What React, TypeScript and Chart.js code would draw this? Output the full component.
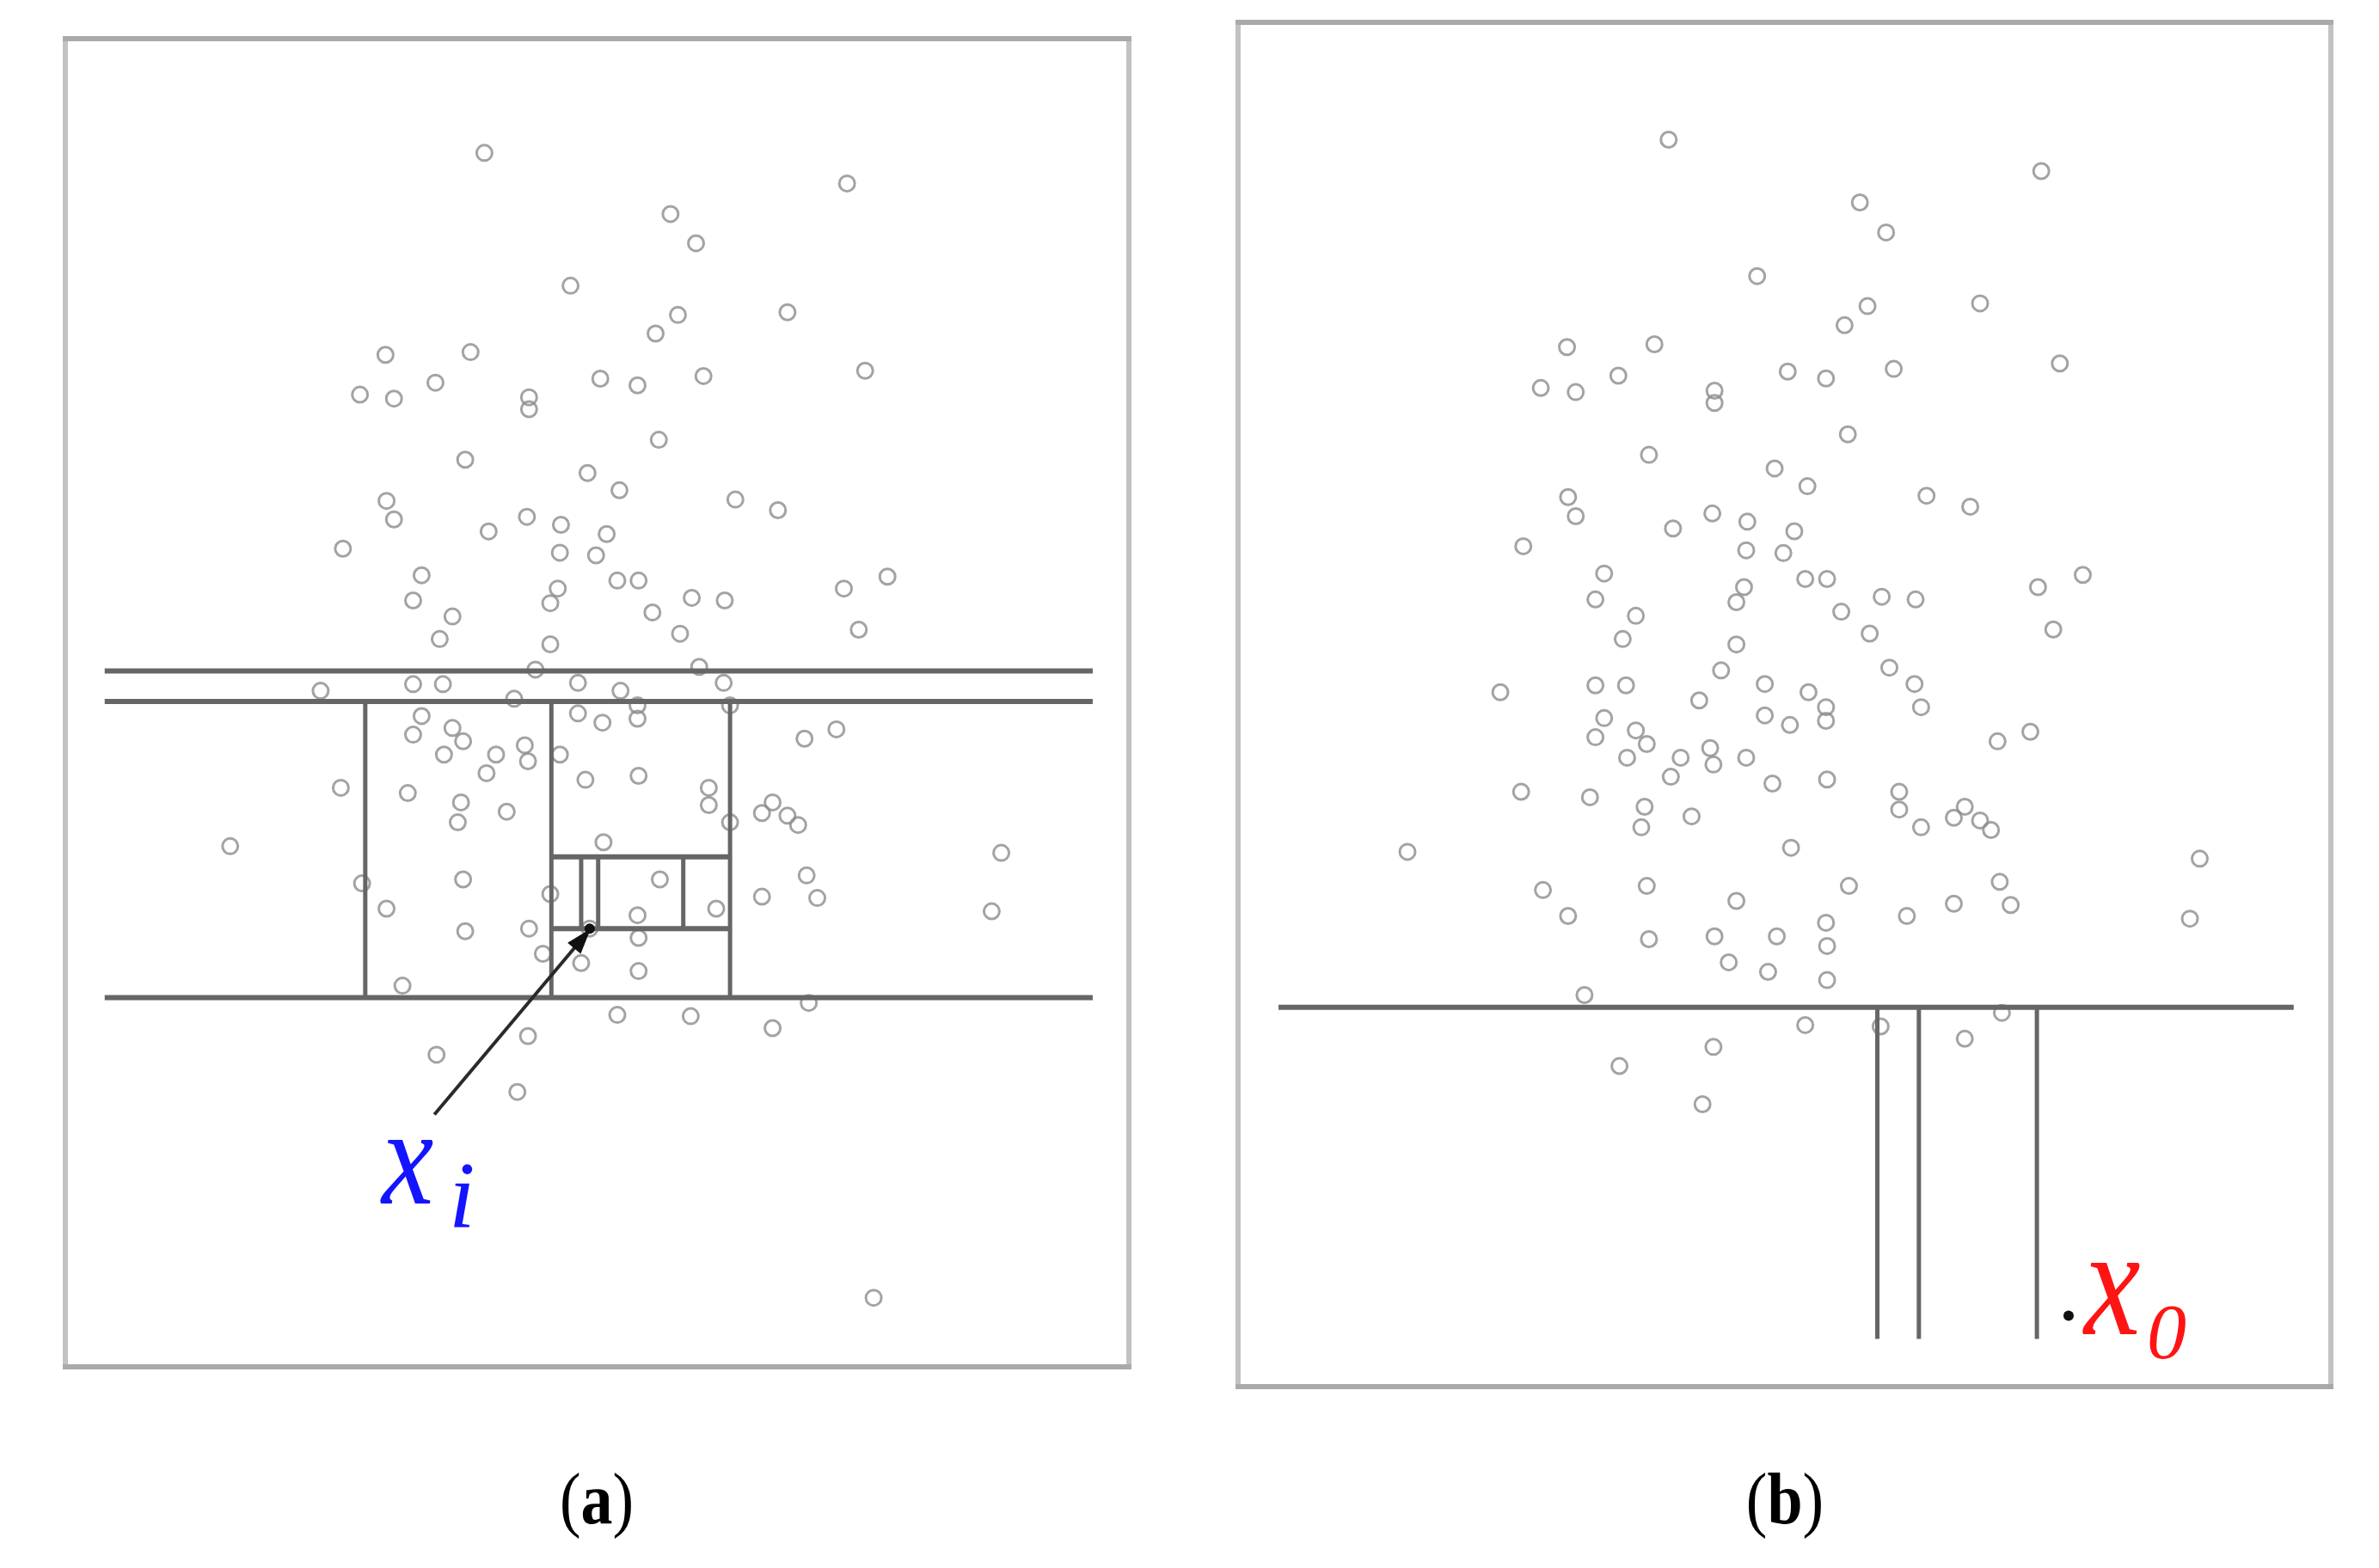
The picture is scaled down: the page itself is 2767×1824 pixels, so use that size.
import React, { useEffect, useRef } from "react";
import { Chart, registerables } from "chart.js";

Chart.register(...registerables);

// Shared sample of points (unit square scaled to 0..100, y up)
const SAMPLE_POINTS: [number, number][] = [
  [39.4, 91.4], [73.5, 89.1], [56.9, 86.8], [59.3, 84.6], [47.5, 81.4], [57.6, 79.2], [55.5, 77.8], [67.9, 79.4],
  [30.1, 76.2], [38.1, 76.4], [27.7, 73.2], [30.9, 72.9], [34.8, 74.1], [43.6, 73.0], [43.6, 72.1], [50.3, 74.4],
  [53.8, 73.9], [60.0, 74.6], [75.2, 75.0], [55.8, 69.8], [37.6, 68.3], [49.1, 67.3], [52.1, 66.0], [63.0, 65.3],
  [67.0, 64.5], [30.2, 65.2], [30.9, 63.8], [43.4, 64.0], [46.6, 63.4], [39.8, 62.9], [50.9, 62.7], [46.5, 61.3],
  [49.9, 61.1], [26.1, 61.6], [33.5, 59.6], [32.7, 57.7], [36.4, 56.5], [35.2, 54.8], [46.3, 58.6], [45.6, 57.5],
  [45.6, 54.4], [51.9, 59.2], [53.9, 59.2], [55.2, 56.8], [58.9, 57.9], [62.0, 57.7], [57.8, 55.2], [73.2, 58.6],
  [77.3, 59.5], [74.6, 55.5], [44.2, 52.5], [59.6, 52.7], [24.0, 50.9], [32.7, 51.4], [35.5, 51.4], [42.2, 50.3],
  [48.2, 51.5], [52.2, 50.9], [53.8, 49.8], [61.9, 51.5], [62.5, 49.8], [33.5, 49.0], [32.7, 47.6], [36.4, 48.1],
  [37.4, 47.1], [35.6, 46.1], [40.5, 46.1], [39.6, 44.7], [43.2, 46.8], [43.5, 45.6], [46.5, 46.1], [48.2, 49.2],
  [50.5, 48.5], [53.8, 48.8], [48.9, 44.2], [53.9, 44.5], [69.5, 47.3], [72.5, 48.0], [25.9, 43.6], [32.2, 43.2],
  [37.2, 42.5], [36.9, 41.0], [41.5, 41.8], [60.5, 43.6], [60.5, 42.3], [62.5, 41.0], [66.5, 42.5], [68.9, 40.8],
  [65.5, 41.7], [67.9, 41.5], [15.5, 39.2], [88.0, 38.7], [50.6, 39.5], [37.4, 36.7], [55.9, 36.7], [69.7, 37.0],
  [27.9, 36.4], [30.2, 34.5], [37.6, 32.8], [43.6, 33.0], [45.6, 35.6], [61.2, 34.5], [53.8, 34.0], [65.5, 35.4],
  [70.7, 35.3], [87.1, 34.3], [44.9, 31.1], [48.5, 30.4], [53.9, 32.3], [53.9, 29.8], [31.7, 28.7], [69.9, 27.4],
  [51.9, 26.5], [58.8, 26.4], [66.5, 25.5], [43.5, 24.9], [34.9, 23.5], [42.5, 20.7],
];

// Normal point x_i and anomalous point x_0
const POINT_XI: [number, number] = [49.3, 33.0];
const POINT_X0: [number, number] = [76.0, 5.2];

// Partition lines (isolation splits): [x1, y1, x2, y2]
const SPLITS_A: [number, number, number, number][] = [
  [3.7, 52.4, 96.6, 52.4],
  [3.7, 50.1, 96.6, 50.1],
  [3.7, 27.8, 96.6, 27.8],
  [28.2, 50.1, 28.2, 27.8],
  [45.7, 50.1, 45.7, 27.8],
  [62.5, 50.1, 62.5, 27.8],
  [45.7, 38.4, 62.5, 38.4],
  [45.7, 33.0, 62.5, 33.0],
  [58.1, 38.4, 58.1, 33.0],
  [48.5, 38.4, 48.5, 33.0],
  [50.1, 38.4, 50.1, 33.0],
];
const SPLITS_B: [number, number, number, number][] = [
  [3.7, 27.8, 96.6, 27.8],
  [58.5, 27.8, 58.5, 3.5],
  [62.3, 27.8, 62.3, 3.5],
  [73.1, 27.8, 73.1, 3.5],
];

// Arrow pointing at x_i: [fromX, fromY, toX, toY]
const ARROW_A: [number, number, number, number] = [34.7, 19.0, 49.4, 33.0];

const framePlugin = {
  id: "frameBox",
  afterDraw(chart: any) {
    const { ctx, chartArea } = chart;
    const { left, top, right, bottom } = chartArea;
    ctx.save();
    ctx.lineWidth = 6;
    ctx.strokeStyle = "#c2c2c2";
    ctx.beginPath();
    ctx.moveTo(left, top);
    ctx.lineTo(left, bottom);
    ctx.moveTo(right, top);
    ctx.lineTo(right, bottom);
    ctx.stroke();
    ctx.strokeStyle = "#aaaaaa";
    ctx.beginPath();
    ctx.moveTo(left - 3, top);
    ctx.lineTo(right + 3, top);
    ctx.moveTo(left - 3, bottom);
    ctx.lineTo(right + 3, bottom);
    ctx.stroke();
    ctx.restore();
  },
};

const arrowPlugin = {
  id: "arrowMark",
  afterDatasetsDraw(chart: any) {
    const arrow = chart.options.plugins.arrowMark?.arrow;
    if (!arrow) return;
    const xs = chart.scales.x;
    const ys = chart.scales.y;
    const x1 = xs.getPixelForValue(arrow[0]);
    const y1 = ys.getPixelForValue(arrow[1]);
    const x2 = xs.getPixelForValue(arrow[2]);
    const y2 = ys.getPixelForValue(arrow[3]);
    const ang = Math.atan2(y2 - y1, x2 - x1);
    const headLen = 30;
    const headW = 10;
    const { ctx } = chart;
    ctx.save();
    ctx.strokeStyle = "#2a2a2a";
    ctx.fillStyle = "#111111";
    ctx.lineWidth = 4;
    ctx.beginPath();
    ctx.moveTo(x1, y1);
    ctx.lineTo(x2 - Math.cos(ang) * headLen * 0.8, y2 - Math.sin(ang) * headLen * 0.8);
    ctx.stroke();
    const bx = x2 - Math.cos(ang) * headLen;
    const by = y2 - Math.sin(ang) * headLen;
    ctx.beginPath();
    ctx.moveTo(x2, y2);
    ctx.lineTo(bx + Math.sin(ang) * headW, by - Math.cos(ang) * headW);
    ctx.lineTo(bx - Math.sin(ang) * headW, by + Math.cos(ang) * headW);
    ctx.closePath();
    ctx.fill();
    ctx.restore();
  },
};

const toXY = (p: [number, number]) => ({ x: p[0], y: p[1] });

function buildConfig(panel: "a" | "b") {
  const splits = panel === "a" ? SPLITS_A : SPLITS_B;
  const circlePts = panel === "a"
    ? [...SAMPLE_POINTS, POINT_XI, POINT_X0]
    : [...SAMPLE_POINTS, POINT_XI];
  const datasets: any[] = [];
  splits.forEach((s) => {
    datasets.push({
      type: "line",
      data: [{ x: s[0], y: s[1] }, { x: s[2], y: s[3] }],
      borderColor: "#666666",
      borderWidth: s[1] === s[3] ? 6 : 5,
      pointRadius: 0,
      fill: false,
      order: 1,
    });
  });
  datasets.push({
    type: "scatter",
    data: circlePts.map(toXY),
    pointStyle: "circle",
    pointRadius: 9,
    pointBorderWidth: 3,
    pointBorderColor: "rgba(140,140,140,0.8)",
    pointBackgroundColor: "rgba(0,0,0,0)",
    order: 2,
  });
  if (panel === "b") {
    datasets.push({
      type: "scatter",
      data: [toXY(POINT_X0)],
      pointStyle: "circle",
      pointRadius: 6,
      pointBorderWidth: 0,
      pointBackgroundColor: "#111111",
      order: 0,
    });
  } else {
    datasets.push({
      type: "scatter",
      data: [toXY(POINT_XI)],
      pointStyle: "circle",
      pointRadius: 6,
      pointBorderWidth: 0,
      pointBackgroundColor: "#111111",
      order: 0,
    });
  }
  return {
    type: "scatter",
    data: { datasets },
    options: {
      animation: false,
      responsive: false,
      maintainAspectRatio: false,
      devicePixelRatio: 1,
      layout: { padding: 10, autoPadding: false },
      clip: false,
      events: [],
      scales: {
        x: { type: "linear", min: 0, max: 100, display: false },
        y: { type: "linear", min: 0, max: 100, display: false },
      },
      plugins: {
        legend: { display: false },
        tooltip: { enabled: false },
        title: { display: false },
        arrowMark: { arrow: panel === "a" ? ARROW_A : null },
      },
    },
    plugins: [framePlugin, arrowPlugin],
  };
}

function Panel({ panel, left, top, width, height }: { panel: "a" | "b"; left: number; top: number; width: number; height: number }) {
  const ref = useRef<HTMLCanvasElement | null>(null);
  useEffect(() => {
    if (!ref.current) return;
    const chart = new Chart(ref.current, buildConfig(panel) as any);
    return () => chart.destroy();
  }, [panel]);
  return (
    <canvas
      ref={ref}
      width={width}
      height={height}
      style={{ position: "absolute", left, top, width, height }}
    />
  );
}

const serif = '"Liberation Serif", "DejaVu Serif", serif';

export default function App() {
  return (
    <div
      style={{
        position: "absolute",
        left: 0,
        top: 0,
        width: 2767,
        height: 1824,
        background: "#ffffff",
        overflow: "hidden",
      }}
    >
      <Panel panel="a" left={66} top={35} width={1257} height={1565} />
      <Panel panel="b" left={1430} top={16} width={1291} height={1607} />

      {/* x_i label */}
      <span style={{ position: "absolute", left: 444, top: 1266, fontFamily: serif, fontStyle: "italic", fontSize: 160, lineHeight: "1", color: "#1414ff", transform: "scaleX(0.85)", transformOrigin: "left top", whiteSpace: "nowrap" }}>x</span>
      <span style={{ position: "absolute", left: 522, top: 1335, fontFamily: serif, fontStyle: "italic", fontSize: 110, lineHeight: "1", color: "#1414ff", whiteSpace: "nowrap" }}>i</span>

      {/* x_0 label */}
      <span style={{ position: "absolute", left: 2424, top: 1402, fontFamily: serif, fontStyle: "italic", fontSize: 180, lineHeight: "1", color: "#ff1414", transform: "scaleX(0.82)", transformOrigin: "left top", whiteSpace: "nowrap" }}>x</span>
      <span style={{ position: "absolute", left: 2497, top: 1503, fontFamily: serif, fontStyle: "italic", fontSize: 92, lineHeight: "1", color: "#ff1414", whiteSpace: "nowrap" }}>0</span>

      {/* panel captions */}
      <div style={{ position: "absolute", left: 544, top: 1702, width: 300, textAlign: "center", fontFamily: serif, fontSize: 84, lineHeight: "1", color: "#000", transform: "scaleX(0.88)" }}>
        (<b>a</b>)
      </div>
      <div style={{ position: "absolute", left: 1926, top: 1702, width: 300, textAlign: "center", fontFamily: serif, fontSize: 84, lineHeight: "1", color: "#000", transform: "scaleX(0.88)" }}>
        (<b>b</b>)
      </div>
    </div>
  );
}
